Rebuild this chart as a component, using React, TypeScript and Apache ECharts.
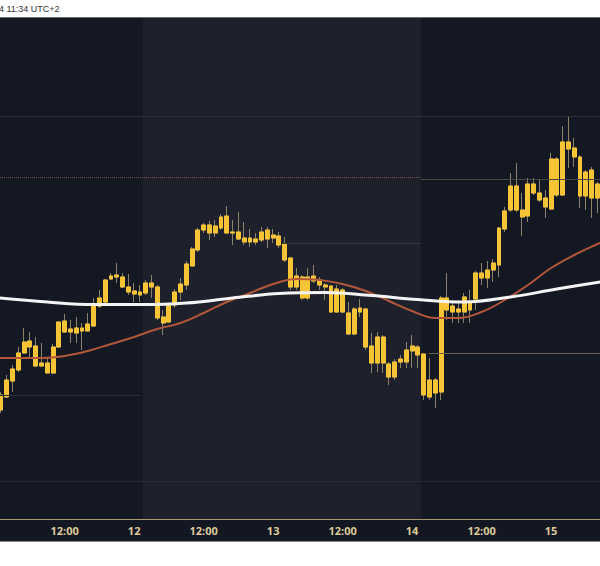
import React, { useEffect, useRef } from "react";
import * as echarts from "echarts";

// Hourly candles, x = hours since day 11 00:00 (candle i opens at hour i)
const candleHours = Array.from({ length: 104 }, (_, i) => i + 1);

const open = [
  190, 203, 219, 230, 247, 259, 254, 237, 237, 227,
  253, 279, 271, 267, 272, 269, 274, 294, 298, 321,
  323, 323, 313, 309, 308, 307, 317, 313, 283, 278,
  295, 308, 315, 334, 350, 370, 375, 367, 372, 384,
  368, 368, 362, 358, 361, 360, 361, 365, 364, 356,
  342, 313, 323, 302, 319, 320, 315, 314, 288, 310,
  287, 266, 292, 291, 254, 237, 263, 236, 223, 238,
  238, 249, 253, 246, 203, 220, 208, 302, 294, 291,
  288, 298, 301, 327, 322, 330, 335, 371, 390, 414,
  390, 384, 416, 407, 402, 391, 441, 405, 458, 452,
  443, 404, 430, 402,
];
const close = [
  205, 220, 231, 247, 258, 253, 234, 234, 227, 253,
  278, 268, 268, 272, 269, 276, 294, 302, 320, 324,
  325, 313, 308, 306, 305, 317, 313, 282, 277, 295,
  308, 316, 336, 351, 370, 375, 367, 374, 383, 367,
  367, 361, 358, 362, 358, 368, 370, 362, 355, 340,
  313, 324, 302, 323, 324, 315, 313, 288, 311, 288,
  266, 291, 288, 253, 237, 263, 237, 223, 238, 241,
  250, 254, 245, 205, 220, 207, 302, 290, 288, 288,
  303, 290, 327, 322, 330, 337, 372, 389, 414, 390,
  383, 416, 407, 400, 393, 441, 405, 458, 451, 443,
  404, 428, 402, 416,
];
const high = [
  208, 225, 235, 253, 272, 268, 263, 257, 243, 256,
  278, 286, 280, 283, 277, 287, 302, 310, 321, 327,
  337, 327, 326, 317, 315, 320, 325, 315, 290, 295,
  311, 322, 339, 353, 372, 377, 379, 380, 386, 394,
  380, 388, 378, 371, 367, 373, 373, 371, 368, 363,
  343, 332, 325, 332, 335, 323, 317, 315, 315, 312,
  298, 293, 301, 292, 267, 268, 265, 238, 241, 245,
  258, 265, 255, 247, 242, 222, 304, 327, 300, 300,
  307, 310, 329, 337, 339, 341, 373, 393, 427, 437,
  407, 422, 422, 420, 410, 447, 443, 474, 484, 462,
  445, 430, 433, 418,
];
const low = [
  187, 202, 208, 228, 247, 243, 233, 233, 227, 226,
  252, 267, 257, 257, 250, 269, 273, 292, 297, 320,
  317, 312, 305, 298, 298, 305, 302, 280, 265, 277,
  292, 300, 310, 334, 348, 367, 360, 363, 370, 367,
  355, 360, 355, 353, 355, 358, 352, 357, 352, 338,
  310, 310, 300, 300, 317, 310, 300, 287, 287, 287,
  265, 265, 283, 250, 227, 228, 227, 215, 220, 232,
  232, 232, 232, 200, 200, 192, 200, 280, 277, 277,
  277, 277, 290, 315, 312, 318, 323, 368, 388, 388,
  364, 378, 405, 398, 382, 390, 403, 404, 432, 433,
  392, 390, 382, 387,
];

// Slow moving average (white)
const slowMaHours = [0, 9, 17, 25, 33, 41, 49, 57, 65, 73, 81, 89, 97, 105];
const slowMa = [302.5, 298, 295.5, 295.5, 297, 302, 306.5, 307.5, 304.5, 300.5, 298, 303, 311, 318.5];

// Fast moving average (orange)
const fastMaHours = [0, 4, 8, 12, 16, 20, 24, 28, 32, 36, 40, 44, 48, 52, 56, 60, 64, 68, 72, 76, 80, 84, 88, 92, 96, 100, 104, 106];
const fastMa = [242, 242, 242, 244, 249, 256, 263, 271, 277, 287, 298, 307, 316, 321, 320, 316, 309, 299, 289, 282, 282, 288, 300, 315, 332, 345, 356, 361];

// Horizontal price levels
const levelPrices = [484, 423, 421, 357, 247, 205, 119];
const levelFromHour = [0.83, 0.83, 73.5, 49.7, 74.8, 0.83, 0.83];
const levelToHour = [104.45, 73.5, 104.45, 73.5, 104.45, 25, 104.45];

// Highlighted session band (hours)
const sessionBand = [25.5, 73.5];

// Time axis ticks
const tickHours = [12, 24, 36, 48, 60, 72, 84, 96];
const tickLabels = ["12:00", "12", "12:00", "13", "12:00", "14", "12:00", "15"];

const X_MIN = 0.83;
const X_MAX = 104.45;

export default function App() {
  const ref = useRef<HTMLDivElement>(null);

  useEffect(() => {
    if (!ref.current) return;
    const chart = echarts.init(ref.current, null, { renderer: "svg" });

    const full = candleHours.map((h, i) => [h, open[i], close[i], low[i], high[i]]);
    const bodies = candleHours.map((h, i) => [
      h,
      open[i],
      close[i],
      Math.min(open[i], close[i]),
      Math.max(open[i], close[i]),
    ]);

    const levelStyles = [
      { color: "#2b2f3a", type: "solid" },
      { color: "#745554", type: "dotted" },
      { color: "#4a4740", type: "solid" },
      { color: "#363a46", type: "solid" },
      { color: "#6e5f4e", type: "solid" },
      { color: "#2c303c", type: "solid" },
      { color: "#272b36", type: "solid" },
    ];

    const yellow = "#f6c435";
    const wick = "#8c8268";

    chart.setOption({
      animation: false,
      backgroundColor: "transparent",
      grid: {
        left: 0,
        right: 0,
        top: 18,
        bottom: 47,
        show: true,
        backgroundColor: "#141823",
        borderWidth: 0,
      },
      xAxis: {
        type: "value",
        min: X_MIN,
        max: X_MAX,
        axisLine: { show: true, lineStyle: { color: "#a8986c", width: 1 } },
        axisTick: { show: false },
        splitLine: { show: false },
        axisLabel: {
          customValues: tickHours,
          formatter: (v: number) => {
            const idx = tickHours.indexOf(Math.round(v));
            return idx >= 0 ? tickLabels[idx] : "";
          },
          color: "#dccb9a",
          fontSize: 11,
          fontWeight: "bold",
          fontFamily: "Open Sans",
          margin: 6,
        },
      },
      yAxis: {
        type: "value",
        min: 81,
        max: 582,
        show: false,
        splitLine: { show: false },
      },
      graphic: [
        {
          type: "text",
          left: -1,
          top: 4,
          style: {
            text: "4 11:34 UTC+2",
            fill: "#333333",
            fontSize: 9,
            fontFamily: "Liberation Sans",
          },
        },
      ],
      series: [
        {
          type: "line",
          z: 1,
          data: [],
          silent: true,
          markArea: {
            silent: true,
            itemStyle: { color: "#1e212b" },
            data: [[{ xAxis: sessionBand[0] }, { xAxis: sessionBand[1] }]],
          },
          markLine: {
            silent: true,
            symbol: ["none", "none"],
            label: { show: false },
            data: levelPrices.map((p, i) => [
              {
                coord: [levelFromHour[i], p],
                lineStyle: { color: levelStyles[i].color, type: levelStyles[i].type, width: 1 },
              },
              { coord: [levelToHour[i], p] },
            ]),
          },
        },
        {
          name: "wicks",
          type: "candlestick",
          z: 3,
          barWidth: 4.4,
          dimensions: ["hour", "open", "close", "lowest", "highest"],
          encode: { x: "hour", y: ["open", "close", "lowest", "highest"] },
          data: full,
          itemStyle: {
            color: "rgba(0,0,0,0)",
            color0: "rgba(0,0,0,0)",
            borderColor: wick,
            borderColor0: wick,
            borderWidth: 1,
          },
        },
        {
          name: "bodies",
          type: "candlestick",
          z: 4,
          barWidth: 4.4,
          dimensions: ["hour", "open", "close", "lowest", "highest"],
          encode: { x: "hour", y: ["open", "close", "lowest", "highest"] },
          data: bodies,
          itemStyle: {
            color: yellow,
            color0: yellow,
            borderColor: yellow,
            borderColor0: yellow,
            borderWidth: 1,
          },
        },
        {
          name: "fastMA",
          type: "line",
          z: 5,
          smooth: 0.4,
          showSymbol: false,
          clip: true,
          data: fastMaHours.map((h, i) => [h, fastMa[i]]),
          lineStyle: { color: "#b3573a", width: 2 },
        },
        {
          name: "slowMA",
          type: "line",
          z: 6,
          smooth: 0.4,
          showSymbol: false,
          clip: true,
          data: slowMaHours.map((h, i) => [h, slowMa[i]]),
          lineStyle: { color: "#f4f4f4", width: 3 },
        },
      ],
    });

    return () => chart.dispose();
  }, []);

  return (
    <div
      style={{
        position: "fixed",
        left: 0,
        top: 0,
        width: 600,
        height: 566,
        background: "#ffffff",
        overflow: "hidden",
      }}
    >
      <div
        style={{
          position: "absolute",
          left: 0,
          top: 519,
          width: 600,
          height: 22,
          background: "#131722",
          borderBottom: "1px solid #8a8a8a",
        }}
      />
      <div
        style={{
          position: "absolute",
          left: 0,
          top: 17,
          width: 600,
          height: 1,
          background: "#6a6d75",
        }}
      />
      <div
        ref={ref}
        style={{ position: "absolute", left: 0, top: 0, width: 600, height: 566 }}
      />
    </div>
  );
}
